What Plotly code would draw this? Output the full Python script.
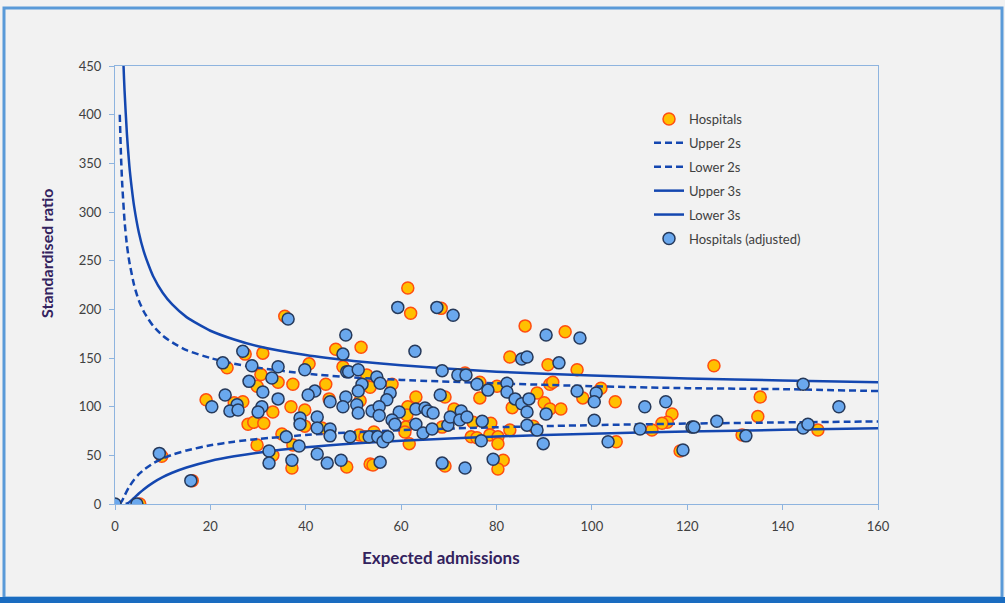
import plotly.graph_objects as go

# ---- data ----
hosp_x = [5.2, 9.8, 16.2, 35.6, 27.3, 31, 23.5, 30.6, 34.2, 37.3, 29.8, 40.7, 44.2, 44.9, 19.1, 25, 26.8, 33.1,
          36.9, 39.8, 39.8, 43.4, 27.9, 29.1, 31.2, 29.8, 33.1, 37.1, 35, 37.3, 48.6, 46.3, 47.8,
          61.4, 68.4, 62, 51.6, 86, 94.4, 82.8, 90.8, 96.9, 52.8, 58.1, 53.5, 51.4, 63.1, 61.4, 61.2, 61, 60.8,
          61.7, 68.6, 71.1, 75.1, 78.8, 74.7, 75.9, 78.6, 80.3, 80.3, 82.8, 81.4, 80.3, 69.2, 53.5, 54.1, 51.2,
          52.4, 54.3, 76.5, 80.1, 76.5, 88.5, 83.3, 90, 91.2, 93.5, 91.2, 91.8, 87.7, 73.4, 69.2,
          101.9, 98.1, 104.9, 125.6, 135.3, 116.8, 115.8, 114.7, 112.6, 134.8, 131.5, 147.4, 105.1, 118.5]
hosp_y = [0, 49, 24, 193, 154, 155, 140, 133, 125, 123, 121, 144, 123, 108, 107, 104, 105, 94.5,
          100, 96.6, 80, 78, 82, 84, 83, 60.6, 50, 37, 72, 60.6, 38, 159, 141,
          222, 201, 196, 161, 183, 177, 151, 143, 138, 132.5, 123, 120, 106, 110, 100, 91.5, 79, 74,
          62, 79, 97.6, 84, 83, 69, 68, 71, 69, 62, 76, 45, 36, 39, 41, 40, 71,
          69, 74, 125, 121, 109, 114, 99, 104, 97.6, 97.6, 123, 125, 80, 134.5, 110,
          119, 109, 105, 142, 110, 92.5, 84, 83, 76, 90, 71, 76, 64, 54.5]

adj_x = [0, 4.6, 9.3, 15.9, 36.3, 26.8, 22.6, 28.7, 34.2, 32.9, 28.1, 31, 39.8, 41.9, 40.5, 34.2, 45.1, 48.4,
         47.8, 23.1, 20.3, 25.6, 24.1, 25.8, 30.8, 30, 38.8, 38.8, 42.4, 42.4, 45.1, 45.1, 32.3, 32.3, 37.1,
         35.9, 38.6, 42.4, 44.5, 47.4, 48.4, 47.8, 48.6,
         59.3, 67.5, 70.9, 62.9, 90.4, 97.5, 85.3, 86.4, 93.1, 49, 51, 54.9, 55.6, 51.8, 51, 57.7, 57, 50.7,
         51, 53.9, 55.4, 55.4, 63.1, 59.6, 65, 65.6, 66.7, 58.1, 58.7, 63.1, 64.6, 66.5, 69.8, 70.3, 72.6,
         72.3, 73.8, 77, 76.8, 79.3, 73.4, 68.6, 55.6, 49.3, 53.3, 55.1, 56.2, 57.2, 75.9, 78.2, 82.2, 82.2,
         83.9, 85.3, 86.8, 86.4, 90.4, 96.9, 86.4, 88.5, 89.8, 68.6, 71.9, 73.6, 68.2,
         100.9, 100.5, 111.1, 115.5, 144.3, 151.8, 100.5, 110.1, 121, 121.4, 126.2, 132.3, 144.3, 145.3,
         103.4, 119.1]
adj_y = [0, 0, 52, 24, 190, 157, 145, 142, 141, 129.5, 126, 115, 138, 116, 112, 108, 105, 110,
         100, 112, 100, 102, 95.5, 96.6, 100, 94.5, 88.4, 82, 89.4, 78, 77, 70, 54.5, 42, 45,
         69, 59.6, 51.4, 42, 45, 173.6, 154, 136,
         202, 202, 194, 157, 173.6, 170.6, 149, 151, 145, 136, 138, 130.5, 124, 123, 116, 114, 107, 102,
         93.5, 95.5, 100, 91, 97.6, 94.5, 98.6, 95.5, 93.5, 86.3, 82, 82, 73, 77, 81, 89.4, 95.5,
         86.3, 89.4, 85, 65, 46, 37, 42, 43, 69, 69, 69, 64, 69, 123, 117, 124, 115,
         108, 103, 108, 94.5, 92.5, 116, 81, 76, 62, 137, 132.5, 132.5, 112,
         114, 105, 100, 105, 123, 100, 86, 77, 79, 79, 85, 70, 78, 82,
         64, 55.5]

up2_x = [1, 1.25, 1.5, 2, 2.5, 3, 4, 5, 6, 7, 8, 10, 12, 15, 20, 25, 30, 40, 50, 60, 80, 100, 120, 140, 160]
up2_y = [400, 359, 330, 291, 266, 249, 225, 209, 198, 190, 183, 173, 166, 158, 150, 144, 140, 134, 130, 127.5,
         124, 121, 119, 118, 116]
lo2_x = [1, 1.5, 2, 3, 4, 5, 6, 8, 10, 12, 15, 20, 25, 30, 40, 50, 60, 80, 100, 120, 140, 160]
lo2_y = [0, 3.4, 8.6, 17.9, 25, 30.6, 35, 41.8, 46.8, 50.6, 55, 60.3, 64, 66.8, 70.9, 73.7, 75.9, 78.9, 81,
         82.6, 83.8, 84.8]
up3_x = [1.75, 1.8, 2, 2.5, 3, 3.5, 4, 5, 6, 7, 8, 10, 12, 15, 20, 25, 30, 40, 50, 60, 80, 100, 120, 140, 160]
up3_y = [460, 449, 425, 380, 348, 325, 306, 279, 260, 246, 234, 217, 205, 192, 178, 169, 162, 153, 147, 142.5,
         136, 132, 129, 127, 125]
lo3_x = [2.25, 3, 4, 5, 6, 8, 10, 12, 15, 20, 25, 30, 40, 50, 60, 80, 100, 120, 140, 160]
lo3_y = [0, 1.8, 6.25, 10.8, 15, 22, 27.6, 32.1, 37.5, 44.2, 49, 52.7, 58.2, 62.1, 65, 69.3, 72.25, 74.5,
         76.2, 77.7]

x_ticks = [0, 20, 40, 60, 80, 100, 120, 140, 160]
y_ticks = [0, 50, 100, 150, 200, 250, 300, 350, 400, 450]

# ---- styling ----
FONT = "Lato"
LINE_C = "#1447B0"
AXIS_C = "#8EB4DF"
TITLE_C = "#33225E"
TEXT_C = "#404040"
BG = "#F2F2F2"

fig = go.Figure()
fig.add_trace(go.Scatter(
    x=hosp_x, y=hosp_y, mode="markers", name="Hospitals", legendgroup="a",
    marker=dict(size=12, color="#FFC000", line=dict(color="#FF4E10", width=1.5))))
fig.add_trace(go.Scatter(x=up2_x, y=up2_y, mode="lines", name="Upper 2s", legendgroup="b",
                         line=dict(color=LINE_C, width=2.5, dash="7px,4px", shape="spline", smoothing=0.6)))
fig.add_trace(go.Scatter(x=lo2_x, y=lo2_y, mode="lines", name="Lower 2s", legendgroup="c",
                         line=dict(color=LINE_C, width=2.5, dash="7px,4px", shape="spline", smoothing=0.6)))
fig.add_trace(go.Scatter(x=up3_x, y=up3_y, mode="lines", name="Upper 3s", legendgroup="d",
                         line=dict(color=LINE_C, width=2.5, shape="spline", smoothing=0.6)))
fig.add_trace(go.Scatter(x=lo3_x, y=lo3_y, mode="lines", name="Lower 3s", legendgroup="e",
                         line=dict(color=LINE_C, width=2.5, shape="spline", smoothing=0.6)))
fig.add_trace(go.Scatter(
    x=adj_x, y=adj_y, mode="markers", name="Hospitals (adjusted)", legendgroup="f",
    marker=dict(size=12, color="#6AA8EE", line=dict(color="#26395A", width=1.5))))

L, R, T, B = 115, 127, 66, 99
W, H = 1005, 603
pw, ph = W - L - R, H - T - B


def px(v):
    return (v - L) / pw


def py(v):
    return (H - B - v) / ph


fig.update_layout(
    width=W, height=H,
    margin=dict(l=L, r=R, t=T, b=B),
    paper_bgcolor=BG, plot_bgcolor=BG,
    font=dict(family=FONT, color=TEXT_C, size=13),
    showlegend=True,
    legend=dict(x=px(649), y=py(104), xanchor="left", yanchor="top",
                bgcolor="rgba(0,0,0,0)", font=dict(size=13, color=TEXT_C, family=FONT),
                tracegroupgap=4, itemwidth=30),
    xaxis=dict(range=[0, 160], tickvals=x_ticks, showgrid=False, zeroline=False,
               showline=True, linecolor=AXIS_C, linewidth=1.3, mirror=True,
               ticks="outside", ticklen=5, tickcolor=AXIS_C, ticklabelstandoff=5,
               tickfont=dict(size=13, color=TEXT_C)),
    yaxis=dict(range=[0, 450], tickvals=y_ticks, showgrid=False, zeroline=False,
               showline=True, linecolor=AXIS_C, linewidth=1.3, mirror=True,
               ticks="outside", ticklen=5, tickcolor=AXIS_C, ticklabelstandoff=5,
               tickfont=dict(size=13, color=TEXT_C)),
    annotations=[
        dict(text="<b>Expected admissions</b>", xref="paper", yref="paper",
             x=px(441), y=py(557), showarrow=False, xanchor="center", yanchor="middle",
             font=dict(size=17, color=TITLE_C, family=FONT)),
        dict(text="<b>Standardised ratio</b>", xref="paper", yref="paper",
             x=px(46), y=py(253), showarrow=False, xanchor="center", yanchor="middle",
             textangle=-90, font=dict(size=16, color=TITLE_C, family=FONT)),
    ],
    shapes=[
        dict(type="rect", xref="paper", yref="paper", x0=px(4), x1=px(1002), y0=py(598), y1=py(8),
             line=dict(color="#5A9AD8", width=3), fillcolor="rgba(0,0,0,0)", layer="below"),
        dict(type="rect", xref="paper", yref="paper", x0=px(0), x1=px(1005), y0=py(603), y1=py(597),
             line=dict(width=0), fillcolor="#1A6CC0", layer="above"),
    ],
)

fig.write_html(
    "out.html",
    config={"displayModeBar": False},
    post_script="document.body.style.margin='0';document.body.style.overflow='hidden';"
                "document.body.style.background='#F2F2F2';",
)
